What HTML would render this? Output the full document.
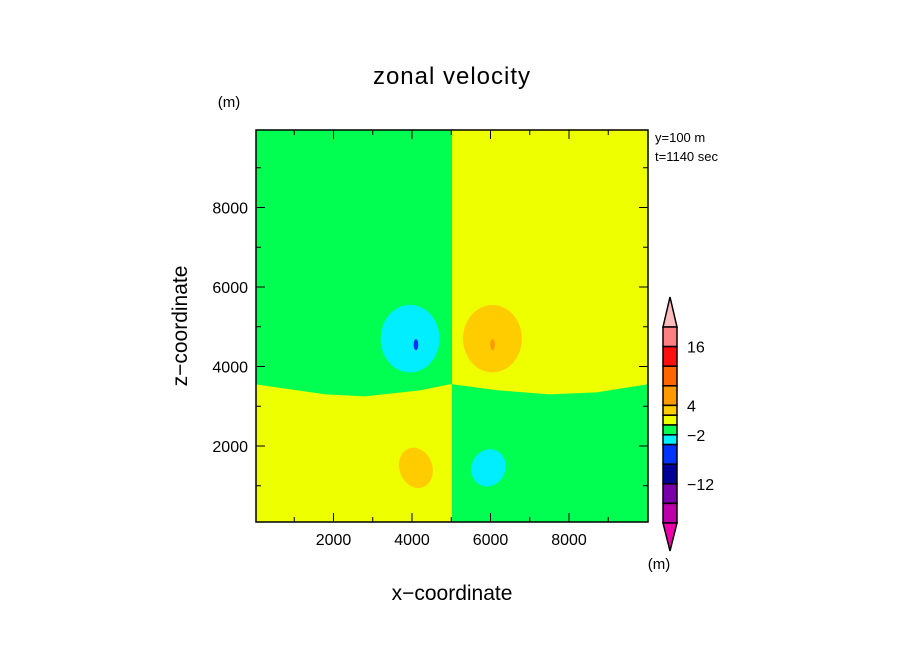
<!DOCTYPE html>
<html><head><meta charset="utf-8"><style>
body{margin:0;background:#fff}
svg{display:block;font-family:"Liberation Sans",sans-serif}
</style></head><body>
<svg width="904" height="654" id="c">
<text x="452" y="84" font-size="24" text-anchor="middle" letter-spacing="1">zonal velocity</text>
<text x="229" y="107" font-size="15" text-anchor="middle">(m)</text>
<text x="655" y="142" font-size="13">y=100 m</text>
<text x="655" y="161" font-size="13">t=1140 sec</text>
<text x="452" y="600" font-size="21" text-anchor="middle">x−coordinate</text>
<text transform="translate(187,326) rotate(-90)" font-size="21" text-anchor="middle">z−coordinate</text>
<text x="659" y="569" font-size="15" text-anchor="middle">(m)</text>
<g id="plot"></g>
<g id="cbar"></g>
</svg>
<script>
const xTicks=[2000,4000,6000,8000];
const zTicks=[2000,4000,6000,8000];
const xDomain=[0,10000];
const zDomain=[0,10000];
// interface depth (z) sampled at x, left half and right half
const ifaceX=[0,1800,2800,4200,4950,5050,6200,7500,8700,10000];
const ifaceZ=[3550,3300,3250,3400,3550,3550,3400,3300,3350,3550];
// eddies: x, z, rx, rz, rotation, level
const blobX=[3950,6050,4100,5950,4100,6050];
const blobZ=[4700,4700,1450,1450,4550,4550];
const blobRX=[750,750,420,430,60,60];
const blobRZ=[850,850,520,480,140,140];
const blobRot=[0,0,-20,25,0,0];
const blobLevel=["cyan","orange","orange","cyan","blue","orangered"];
const levelColor={green:"#00ff50",yellow:"#eeff00",cyan:"#00eeff",orange:"#ffcc00",blue:"#0033ff",orangered:"#ff9900"};
const cbColors=["#ff8080","#ff1010","#ff6600","#ff9900","#ffcc00","#eeff00","#00ff50","#00eeff","#0033ff","#000099","#7700aa","#bb00aa"];
const cbWeights=[2,2,2,2,1,1,1,1,2,2,2,2];
const cbLabels=["16","4","−2","−12"];
const cbLabelIdx=[1,4,7,10];

const X0=255,X1=648,Y0=525.5,Y1=130;
const sx=v=>X0+(v-xDomain[0])/(xDomain[1]-xDomain[0])*392.5;
const sz=v=>Y0-(v-zDomain[0])/(zDomain[1]-zDomain[0])*397.5;
const NS="http://www.w3.org/2000/svg";
const plot=document.getElementById('plot');
function mk(t,a,p){const e=document.createElementNS(NS,t);for(const k in a)e.setAttribute(k,a[k]);(p||plot).appendChild(e);return e;}
const L=256,R=648,T=130,B=522;
const xm=452;
let e=mk('rect',{x:L,y:T,width:R-L,height:B-T,fill:levelColor.yellow});


e=mk('rect',{x:L,y:T,width:xm-L,height:B-T,fill:levelColor.green});


let pl=`M${L},${B}`;
let leftPts=[],rightPts=[];
for(let i=0;i<ifaceX.length;i++){const px=sx(ifaceX[i]),py=sz(ifaceZ[i]);if(ifaceX[i]<5000)leftPts.push([px,py]);else rightPts.push([px,py]);}
pl+=leftPts.map(p=>`L${Math.max(L,p[0])},${p[1]}`).join('')+`L${xm},${leftPts[leftPts.length-1][1]}L${xm},${B}Z`;
e=mk('path',{d:pl,fill:levelColor.yellow});


let dr=`M${xm},${B}L${xm},${rightPts[0][1]}`+rightPts.map(p=>`L${Math.min(R,p[0])},${p[1]}`).join('')+`L${R},${B}Z`;
e=mk('path',{d:dr,fill:levelColor.green});


for(let i=0;i<blobX.length;i++){
  const cx=sx(blobX[i]),cy=sz(blobZ[i]);
  const b=mk('ellipse',{cx:cx,cy:cy,rx:sx(blobX[i]+blobRX[i])-cx,ry:cy-sz(blobZ[i]+blobRZ[i]),fill:levelColor[blobLevel[i]],transform:`rotate(${blobRot[i]},${cx},${cy})`});
  
  
}
e=mk('rect',{x:L,y:T,width:R-L,height:B-T,fill:'none',stroke:'#000','stroke-width':1.5});


xTicks.forEach(v=>{const x=sx(v);
  mk('line',{x1:x,x2:x,y1:B,y2:B-9,stroke:'#000'});mk('line',{x1:x,x2:x,y1:T,y2:T+9,stroke:'#000'});
  const t=mk('text',{x:x,y:B+23,'font-size':16,'text-anchor':'middle'});t.textContent=v;
  
  
});
for(let v=1000;v<10000;v+=1000){if(v%2000){const x=sx(v);mk('line',{x1:x,x2:x,y1:B,y2:B-5,stroke:'#000'});mk('line',{x1:x,x2:x,y1:T,y2:T+5,stroke:'#000'});}
  const y=sz(v);if(v%2000){mk('line',{x1:L,x2:L+5,y1:y,y2:y,stroke:'#000'});mk('line',{x1:R,x2:R-5,y1:y,y2:y,stroke:'#000'});}}
zTicks.forEach(v=>{const y=sz(v);
  mk('line',{x1:L,x2:L+9,y1:y,y2:y,stroke:'#000'});mk('line',{x1:R,x2:R-9,y1:y,y2:y,stroke:'#000'});
  const t=mk('text',{x:L-8,y:y+6,'font-size':16,'text-anchor':'end'});t.textContent=v;
  
  
});
const cb=document.getElementById('cbar');
const cbT=327,cbB=523,cbL=663,cbR=677;
const wsum=cbWeights.reduce((a,b)=>a+b,0),unit=(cbB-cbT)/wsum;
e=mk('polygon',{points:`${cbL},${cbT} 670,297 ${cbR},${cbT}`,fill:'#ffbbbb',stroke:'#000','stroke-width':1.5},cb);


const edges=[cbT];cbWeights.forEach(w=>edges.push(edges[edges.length-1]+w*unit));
cbColors.forEach((c,i)=>{const r=mk('rect',{x:cbL,y:edges[i],width:cbR-cbL,height:edges[i+1]-edges[i],fill:c,stroke:'#000','stroke-width':1.5},cb);
  
  });
e=mk('polygon',{points:`${cbL},${cbB} 670,551 ${cbR},${cbB}`,fill:'#ee00aa',stroke:'#000','stroke-width':1.5},cb);


cbLabels.forEach((s,i)=>{const t=mk('text',{x:687,y:edges[cbLabelIdx[i]]+6,'font-size':16},cb);t.textContent=s;
  
  });
</script>
</body></html>
